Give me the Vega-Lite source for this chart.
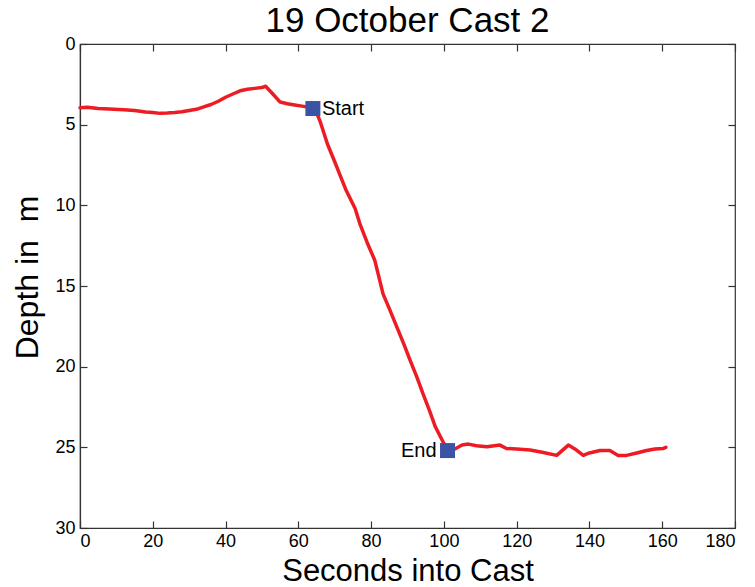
{
  "$schema": "https://vega.github.io/schema/vega-lite/v6.json",
  "width": 655,
  "height": 484,
  "autosize": {"type": "none"},
  "padding": {"left": 80, "top": 44, "right": 20, "bottom": 59},
  "background": "white",
  "title": {
    "text": "19 October Cast 2",
    "font": "Liberation Sans",
    "fontSize": 35,
    "fontWeight": "normal",
    "color": "black",
    "anchor": "middle",
    "baseline": "alphabetic",
    "offset": 0,
    "dy": 32
  },
  "config": {
    "view": {"stroke": "#333333", "strokeWidth": 1.2},
    "axis": {
      "grid": false,
      "domainColor": "#333333",
      "domainWidth": 1.2,
      "tickColor": "#333333",
      "tickWidth": 1.2,
      "tickSize": -7,
      "labelFont": "Liberation Sans",
      "labelFontSize": 18,
      "labelColor": "black",
      "titleFont": "Liberation Sans",
      "titleFontSize": 32,
      "titleFontWeight": "normal",
      "titleColor": "black"
    }
  },
  "datasets": {
    "depth": [
      {"t": 0, "d": 3.95}, {"t": 2, "d": 3.92}, {"t": 5, "d": 4.0}, {"t": 8, "d": 4.03},
      {"t": 12, "d": 4.08}, {"t": 15, "d": 4.12}, {"t": 18, "d": 4.22}, {"t": 20, "d": 4.25},
      {"t": 22, "d": 4.3}, {"t": 24, "d": 4.28}, {"t": 26, "d": 4.25}, {"t": 28, "d": 4.2},
      {"t": 30, "d": 4.12}, {"t": 32, "d": 4.05}, {"t": 34, "d": 3.9}, {"t": 36, "d": 3.75},
      {"t": 38, "d": 3.55}, {"t": 40, "d": 3.3}, {"t": 42, "d": 3.1}, {"t": 44, "d": 2.9},
      {"t": 46, "d": 2.8}, {"t": 48, "d": 2.75}, {"t": 50, "d": 2.7}, {"t": 51, "d": 2.62},
      {"t": 53, "d": 3.1}, {"t": 55, "d": 3.6}, {"t": 57, "d": 3.7}, {"t": 59, "d": 3.78},
      {"t": 61, "d": 3.85}, {"t": 63, "d": 3.92}, {"t": 64.5, "d": 4.0}, {"t": 66, "d": 4.8},
      {"t": 68, "d": 6.2}, {"t": 70, "d": 7.3}, {"t": 71.4, "d": 8.1}, {"t": 73, "d": 9.0},
      {"t": 75.6, "d": 10.2}, {"t": 77, "d": 11.2}, {"t": 78.9, "d": 12.3}, {"t": 81, "d": 13.4},
      {"t": 83.3, "d": 15.5}, {"t": 85, "d": 16.4}, {"t": 87, "d": 17.5}, {"t": 89, "d": 18.6},
      {"t": 90.7, "d": 19.6}, {"t": 92.5, "d": 20.6}, {"t": 94.3, "d": 21.7}, {"t": 96, "d": 22.7},
      {"t": 97.6, "d": 23.7}, {"t": 99.4, "d": 24.5}, {"t": 101, "d": 25.2}, {"t": 103, "d": 25.1},
      {"t": 105, "d": 24.85}, {"t": 106.7, "d": 24.8}, {"t": 109, "d": 24.9}, {"t": 111.8, "d": 24.97},
      {"t": 115.4, "d": 24.86}, {"t": 117.2, "d": 25.07}, {"t": 120, "d": 25.1}, {"t": 123.7, "d": 25.17},
      {"t": 127, "d": 25.3}, {"t": 131, "d": 25.5}, {"t": 134.2, "d": 24.86}, {"t": 136, "d": 25.1},
      {"t": 138.3, "d": 25.5}, {"t": 140, "d": 25.35}, {"t": 142.9, "d": 25.2}, {"t": 145.6, "d": 25.2},
      {"t": 147.9, "d": 25.5}, {"t": 150.2, "d": 25.5}, {"t": 153, "d": 25.35}, {"t": 155.7, "d": 25.2},
      {"t": 158, "d": 25.1}, {"t": 160.3, "d": 25.07}, {"t": 161, "d": 25.0}
    ],
    "marks": [
      {"t": 64, "d": 4.0, "label": "Start", "side": "right"},
      {"t": 101, "d": 25.2, "label": "End", "side": "left"}
    ]
  },
  "layer": [
    {
      "data": {"name": "depth"},
      "mark": {"type": "line", "color": "#ED1C24", "strokeWidth": 3.5, "strokeJoin": "round", "strokeCap": "round"},
      "encoding": {
        "x": {
          "field": "t", "type": "quantitative",
          "scale": {"domain": [0, 180], "nice": false, "zero": false},
          "axis": {"title": "Seconds into Cast", "titleFontSize": 31, "values": [0, 20, 40, 60, 80, 100, 120, 140, 160, 180], "labelPadding": 11, "titleBaseline": "alphabetic", "titleY": 52}
        },
        "y": {
          "field": "d", "type": "quantitative",
          "scale": {"domain": [0, 30], "reverse": true, "nice": false, "zero": false},
          "axis": {"title": "Depth in\u00a0 m", "values": [0, 5, 10, 15, 20, 25, 30], "labelPadding": 12, "titleBaseline": "alphabetic", "titleAngle": -90, "titleAlign": "center", "titleX": -43, "titleY": 233}
        }
      }
    },
    {
      "data": {"name": "marks"},
      "mark": {"type": "square", "color": "#3A53A4", "opacity": 1, "size": 225, "filled": true},
      "encoding": {
        "x": {"field": "t", "type": "quantitative", "axis": {"orient": "top", "title": null, "labels": false, "values": [0, 20, 40, 60, 80, 100, 120, 140, 160, 180], "domain": false}},
        "y": {"field": "d", "type": "quantitative", "axis": {"orient": "right", "title": null, "labels": false, "values": [0, 5, 10, 15, 20, 25, 30], "domain": false}}
      }
    },
    {
      "data": {"name": "marks"},
      "transform": [{"filter": "datum.side == 'right'"}],
      "mark": {"type": "text", "align": "left", "baseline": "middle", "dx": 9, "font": "Liberation Sans", "fontSize": 20, "color": "black"},
      "encoding": {
        "x": {"field": "t", "type": "quantitative", "axis": null},
        "y": {"field": "d", "type": "quantitative", "axis": null},
        "text": {"field": "label"}
      }
    },
    {
      "data": {"name": "marks"},
      "transform": [{"filter": "datum.side == 'left'"}],
      "mark": {"type": "text", "align": "right", "baseline": "middle", "dx": -11, "font": "Liberation Sans", "fontSize": 20, "color": "black"},
      "encoding": {
        "x": {"field": "t", "type": "quantitative", "axis": null},
        "y": {"field": "d", "type": "quantitative", "axis": null},
        "text": {"field": "label"}
      }
    }
  ],
  "resolve": {"axis": {"x": "independent", "y": "independent"}}
}
